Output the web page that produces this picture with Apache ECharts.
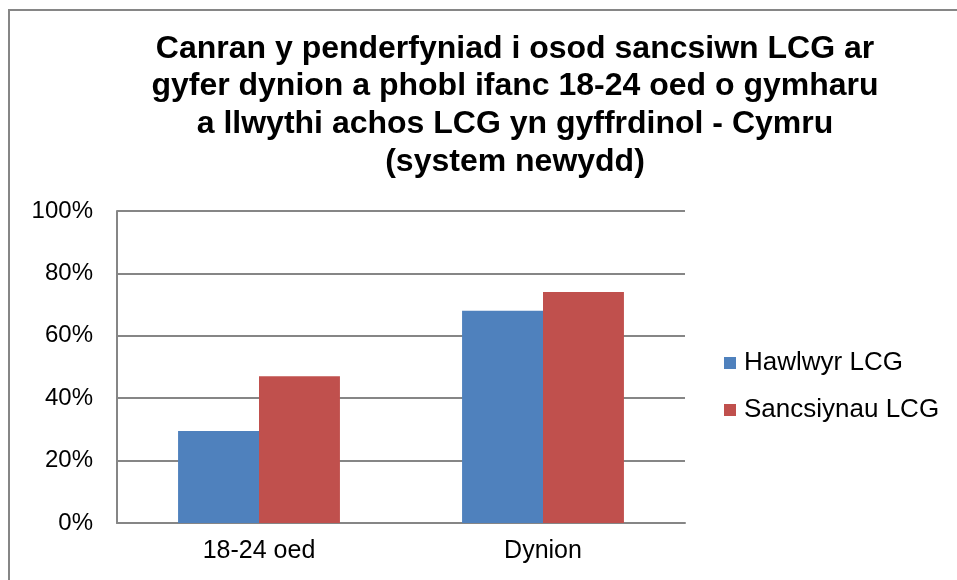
<!DOCTYPE html>
<html>
<head>
<meta charset="utf-8">
<script src="https://cdn.jsdelivr.net/npm/echarts@6/dist/echarts.min.js"></script>
<style>
html,body{margin:0;padding:0;background:#fff;}
#main{width:957px;height:580px;}
</style>
</head>
<body>
<div id="main"></div>
<script>
// data
var categories = ['18-24 oed', 'Dynion'];
var seriesNames = ['Hawlwyr LCG', 'Sancsiynau LCG'];
var hawlwyr = [29.5, 68];
var sancsiynau = [47, 74];

var myChart = echarts.init(document.getElementById('main'));

var option = {
    backgroundColor: '#fff',
    animation: false,
    title: {
        text: 'Canran y penderfyniad i osod sancsiwn LCG ar\ngyfer dynion a phobl ifanc 18-24 oed o gymharu\na llwythi achos LCG yn gyffrdinol - Cymru\n(system newydd)',
        left: 510,
        textAlign: 'center',
        top: 25,
        textStyle: {
            fontFamily: 'Liberation Sans',
            fontWeight: 'bold',
            fontSize: 32,
            lineHeight: 37.7,
            color: '#000'
        }
    },
    graphic: [{
        type: 'rect',
        shape: {x: 9, y: 10, width: 1000, height: 700},
        style: {fill: 'none', stroke: '#868686', lineWidth: 2},
        silent: true
    }],
    legend: {
        orient: 'vertical',
        left: 719,
        top: 345,
        itemWidth: 12,
        itemHeight: 12,
        itemGap: 21,
        icon: 'rect',
        data: seriesNames,
        textStyle: {
            fontFamily: 'Liberation Sans',
            fontSize: 26,
            color: '#000',
            padding: [0, 0, 0, 3]
        }
    },
    grid: {
        left: 117,
        right: 272,
        top: 211,
        bottom: 57
    },
    xAxis: {
        type: 'category',
        data: categories,
        axisLine: {lineStyle: {color: '#868686', width: 2}},
        axisTick: {show: false},
        axisLabel: {
            fontFamily: 'Liberation Sans',
            fontSize: 25,
            color: '#000',
            margin: 16
        }
    },
    yAxis: {
        type: 'value',
        min: 0,
        max: 100,
        interval: 20,
        axisLine: {show: true, lineStyle: {color: '#868686', width: 2}},
        axisTick: {show: false},
        splitLine: {lineStyle: {color: '#868686', width: 2}},
        axisLabel: {
            formatter: '{value}%',
            fontFamily: 'Liberation Sans',
            fontSize: 24,
            color: '#000',
            margin: 24
        }
    },
    series: [
        {
            name: seriesNames[0],
            type: 'bar',
            data: hawlwyr,
            barGap: '0%',
            barCategoryGap: '43%',
            itemStyle: {color: '#4f81bd'}
        },
        {
            name: seriesNames[1],
            type: 'bar',
            data: sancsiynau,
            barGap: '0%',
            barCategoryGap: '43%',
            itemStyle: {color: '#c0504d'}
        }
    ]
};
myChart.setOption(option);
</script>
</body>
</html>
